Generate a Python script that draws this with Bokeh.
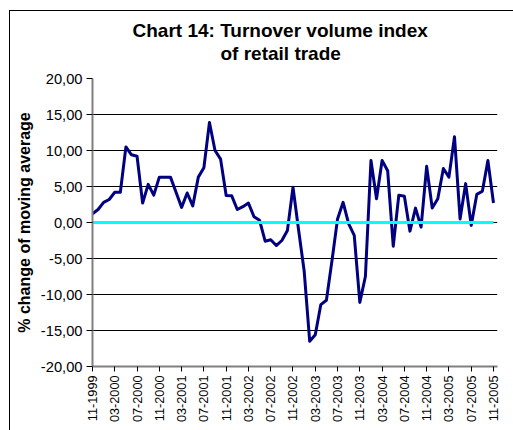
import math
from bokeh.plotting import figure
from bokeh.models import (Range1d, FixedTicker, CustomJSTickFormatter, Title, Spacer)
from bokeh.layouts import column, row
from bokeh.embed import file_html
from bokeh.resources import INLINE

# ---- data ----
tick_labels = ["11-1999", "03-2000", "07-2000", "11-2000", "03-2001", "07-2001",
               "11-2001", "03-2002", "07-2002", "11-2002", "03-2003", "07-2003",
               "11-2003", "03-2004", "07-2004", "11-2004", "03-2005", "07-2005",
               "11-2005"]

values = [1.2, 1.8, 2.8, 3.2, 4.2, 4.2, 10.5, 9.4, 9.2, 2.7,
          5.3, 3.8, 6.3, 6.3, 6.3, 4.2, 2.1, 4.1, 2.3, 6.3,
          7.6, 13.9, 10.0, 8.8, 3.75, 3.7, 1.8, 2.2, 2.7, 0.8,
          0.3, -2.6, -2.4, -3.2, -2.5, -1.1, 4.9, -1.0, -6.7, -16.5,
          -15.6, -11.4, -10.8, -5.3, 0.5, 2.8, -0.2, -1.8, -11.1, -7.5,
          8.6, 3.3, 8.6, 7.2, -3.3, 3.8, 3.65, -1.2, 2.0, -0.65,
          7.8, 2.0, 3.3, 7.5, 6.3, 11.9, 0.5, 5.4, -0.4, 3.9,
          4.35, 8.6, 2.7]

baseline = [0.0] * len(values)

y_ticks = [-20, -15, -10, -5, 0, 5, 10, 15, 20]

title_lines = ["Chart 14: Turnover volume index", "of retail trade"]
y_label = "% change of moving average"

# ---- figure ----
x = list(range(len(values)))
tick_pos = [i * 4 for i in range(len(tick_labels))]

FONT = "Liberation Sans"

p = figure(width=503, height=419, output_backend="svg", toolbar_location=None,
           title=None,
           x_range=Range1d(0, 72.72), y_range=Range1d(-20, 20),
           min_border_left=82, min_border_right=16, min_border_top=67,
           min_border_bottom=64)
p.outline_line_color = None
p.background_fill_color = "white"
p.border_fill_color = "white"

# grid
p.xgrid.grid_line_color = None
p.ygrid.ticker = FixedTicker(ticks=y_ticks)
p.ygrid.grid_line_color = "black"
p.ygrid.grid_line_width = 1

# y axis
p.yaxis.ticker = FixedTicker(ticks=y_ticks)
p.yaxis.formatter = CustomJSTickFormatter(code="return tick.toFixed(2).replace('.', ',');")
p.yaxis.axis_line_color = "#808080"
p.yaxis.axis_line_width = 2
p.yaxis.major_tick_line_color = "black"
p.yaxis.major_tick_out = 6
p.yaxis.major_tick_in = 0
p.yaxis.minor_tick_line_color = None
p.yaxis.major_label_text_font = FONT
p.yaxis.major_label_text_font_size = "14.7px"
p.yaxis.major_label_text_color = "black"
p.yaxis.major_label_standoff = 4
p.yaxis.axis_label = y_label
p.yaxis.axis_label_text_font = FONT
p.yaxis.axis_label_text_font_style = "bold"
p.yaxis.axis_label_text_font_size = "16px"
p.yaxis.axis_label_text_color = "black"
p.yaxis.axis_label_standoff = 5

# x axis
p.xaxis.ticker = FixedTicker(ticks=tick_pos)
p.xaxis.major_label_overrides = {t: lab for t, lab in zip(tick_pos, tick_labels)}
p.xaxis.major_label_orientation = math.pi / 2
p.xaxis.axis_line_color = "#808080"
p.xaxis.axis_line_width = 2
p.xaxis.major_tick_line_color = "black"
p.xaxis.major_tick_out = 5
p.xaxis.major_tick_in = 0
p.xaxis.minor_tick_line_color = None
p.xaxis.major_label_text_font = FONT
p.xaxis.major_label_text_font_size = "12.7px"
p.xaxis.major_label_text_color = "black"
p.xaxis.major_label_standoff = 4

# series
p.line(x, values, line_color="#000080", line_width=3, line_join="round")
p.line(x, baseline, line_color="#00FFFF", line_width=3)

# title: stacked outward from the frame; a blank title keeps it off the plot
p.add_layout(Title(text=" ", text_font_size="1px", standoff=12), "above")
p.add_layout(Title(text=title_lines[1], align="left", offset=128,
                   text_font=FONT, text_font_style="bold", text_font_size="19px",
                   text_color="black", standoff=0), "above")
p.add_layout(Title(text=title_lines[0], align="left", offset=40,
                   text_font=FONT, text_font_style="bold", text_font_size="19px",
                   text_color="black", standoff=0), "above")

# chart-area frame (top and left edges visible in the reference)
BLACK = {"background-color": "#000000"}
top_edge = row(Spacer(width=9, height=1), Spacer(width=504, height=1, styles=BLACK))
body = row(Spacer(width=9, height=419),
           Spacer(width=1, height=419, styles=BLACK),
           p)
layout = column(Spacer(width=513, height=10), top_edge, body)

open("out.html", "w").write(file_html(layout, INLINE))
